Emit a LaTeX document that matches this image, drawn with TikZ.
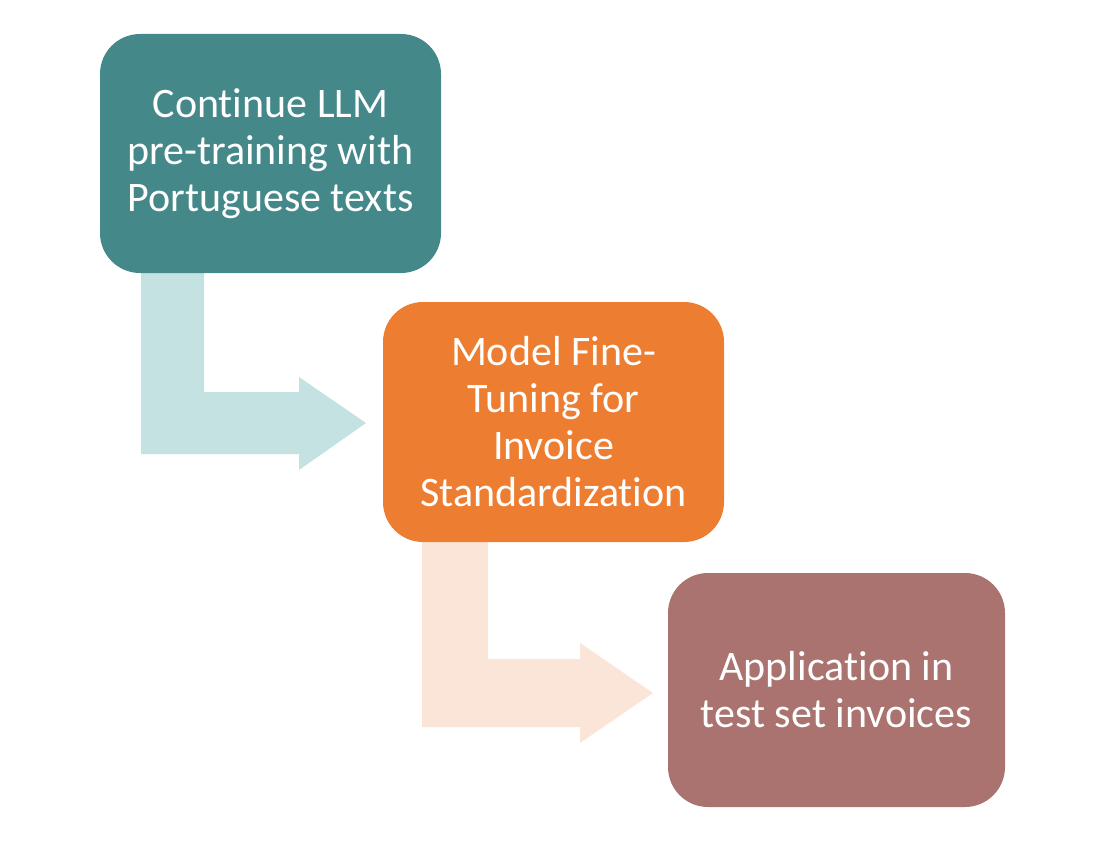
\documentclass[tikz,border=0pt]{standalone}
\usepackage{fontspec}
\setmainfont[Ligatures=NoCommon]{Carlito}
\usepackage{tikz}
\definecolor{tealbox}{RGB}{69,136,138}
\definecolor{orangebox}{RGB}{237,125,49}
\definecolor{mauvebox}{RGB}{170,115,112}
\definecolor{tealarrow}{RGB}{195,226,225}
\definecolor{peacharrow}{RGB}{251,229,216}
\tikzset{
	stage/.style={rectangle, rounded corners=40pt, inner sep=0pt, text=white, align=center,
		minimum width=341pt, minimum height=239pt, font=\fontsize{42}{47}\selectfont}
}
\begin{document}
\begin{tikzpicture}[x=1pt,y=-1pt]
		\useasboundingbox (0,0) rectangle (1106,843);
		%
		\fill [tealarrow] (141,270) -- (204,270) -- (204,392) -- (299,392) -- (299,377) -- (366,423)
			-- (299,470) -- (299,454) -- (141,454) -- cycle;
		\fill [peacharrow] (422,540) -- (488,540) -- (488,659) -- (580,659) -- (580,643) -- (653,693)
			-- (580,743) -- (580,727) -- (422,727) -- cycle;
		%
		\node [stage, fill=tealbox] (pretrain) at (270.5,153.5) {Continue LLM\\pre-training with\\Portuguese texts};
		\node [stage, fill=orangebox, minimum height=240pt] (finetune) at (553.5,422) {Model Fine-\\Tuning for\\Invoice\\Standardization};
		\node [stage, fill=mauvebox, minimum width=337pt, minimum height=234pt] (apply) at (836.5,690) {Application in\\test set invoices};
	\end{tikzpicture}
\end{document}
